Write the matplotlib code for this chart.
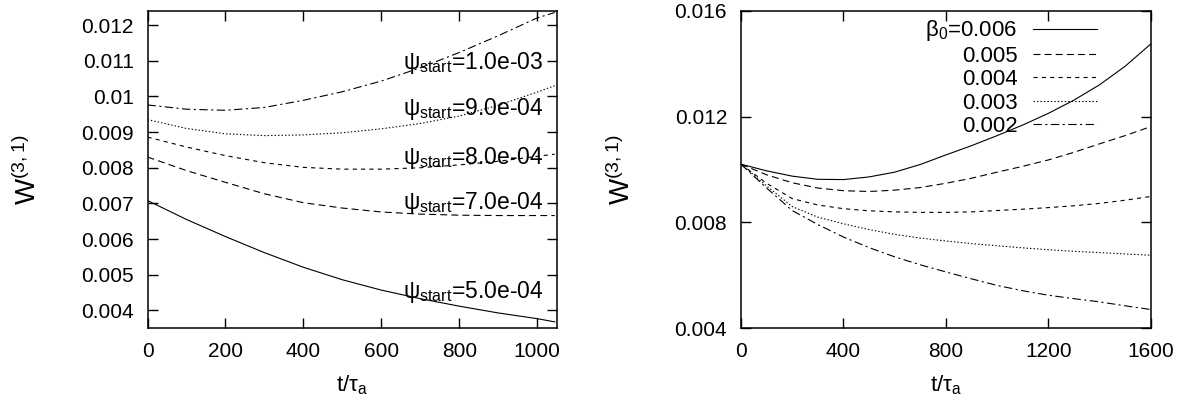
import matplotlib
matplotlib.use("Agg")
import matplotlib.pyplot as plt
import numpy as np

# left panel: W(3,1) vs t/tau_a for several psi_start
t_left = [0, 100, 200, 300, 400, 500, 600, 700, 800, 900, 1000, 1045]
w_5e4 = [0.00708, 0.00655, 0.00607, 0.00562, 0.00521, 0.00486, 0.00457, 0.00433, 0.00412, 0.00393, 0.00377, 0.00368]
w_7e4 = [0.00830, 0.00792, 0.00759, 0.00727, 0.00702, 0.00687, 0.00676, 0.00670, 0.00667, 0.00666, 0.00666, 0.00666]
w_8e4 = [0.00886, 0.00858, 0.00834, 0.00814, 0.00801, 0.00796, 0.00796, 0.00800, 0.00808, 0.00818, 0.00832, 0.00838]
w_9e4 = [0.00935, 0.00910, 0.00895, 0.00890, 0.00892, 0.00898, 0.00909, 0.00924, 0.00945, 0.00975, 0.01012, 0.01030]
w_1e3 = [0.00976, 0.00964, 0.00961, 0.00969, 0.00989, 0.01013, 0.01043, 0.01080, 0.01123, 0.01170, 0.01220, 0.01235]
left_series = [w_5e4, w_7e4, w_8e4, w_9e4, w_1e3]
left_labels = ["5.0e-04", "7.0e-04", "8.0e-04", "9.0e-04", "1.0e-03"]

# right panel: W(3,1) vs t/tau_a for several beta_0
t_right = [0, 100, 200, 300, 400, 500, 600, 700, 800, 900, 1000, 1100, 1200, 1300, 1400, 1500, 1600]
w_b006 = [0.0102, 0.00995, 0.00975, 0.00963, 0.00962, 0.00972, 0.00990, 0.01019, 0.01055, 0.01090,
          0.01128, 0.01168, 0.01212, 0.01262, 0.01320, 0.01390, 0.01474]
w_b005 = [0.0102, 0.00980, 0.00950, 0.00930, 0.00920, 0.00917, 0.00922, 0.00932, 0.00948, 0.00967,
          0.00990, 0.01012, 0.01036, 0.01065, 0.01097, 0.01128, 0.01162]
w_b004 = [0.0102, 0.00948, 0.00890, 0.00866, 0.00852, 0.00844, 0.00840, 0.00838, 0.00838, 0.00840,
          0.00845, 0.00850, 0.00856, 0.00863, 0.00872, 0.00884, 0.00898]
w_b003 = [0.0102, 0.00938, 0.00860, 0.00820, 0.00795, 0.00773, 0.00755, 0.00741, 0.00730, 0.00720,
          0.00712, 0.00704, 0.00697, 0.00691, 0.00686, 0.00681, 0.00676]
w_b002 = [0.0102, 0.00930, 0.00845, 0.00792, 0.00745, 0.00705, 0.00670, 0.00640, 0.00613, 0.00587,
          0.00562, 0.00542, 0.00525, 0.00512, 0.00500, 0.00485, 0.00471]
right_series = [w_b006, w_b005, w_b004, w_b003, w_b002]
right_labels = [r"$\mathregular{\beta_0}$=0.006", "0.005", "0.004", "0.003", "0.002"]

plt.rcParams['font.family'] = ['Liberation Sans', 'DejaVu Sans']
plt.rcParams['mathtext.fontset'] = 'custom'
plt.rcParams['mathtext.rm'] = 'Liberation Sans'
plt.rcParams['lines.scale_dashes'] = False

styles = [
    dict(linestyle='-'),
    dict(dashes=(5, 3)),
    dict(dashes=(3, 3)),
    dict(dashes=(1, 1.5)),
    dict(dashes=(6, 2.5, 1.5, 2.5)),
]

fs = 15
fig = plt.figure(figsize=(11.86, 4.04), dpi=100)
ax1 = fig.add_axes([0.1244, 0.1874, 0.345, 0.786])
ax2 = fig.add_axes([0.6248, 0.1874, 0.3454, 0.786])

for s, w in zip(styles, left_series):
    ax1.plot(t_left, w, color='black', lw=0.8, **s)
# baseline y of each psi_start label
label_y = [0.00434, 0.00685, 0.00811, 0.00948, 0.01078]
for lab, y in zip(left_labels, label_y):
    ax1.text(1015, y, r"$\mathregular{\psi_{start}}$=" + lab, ha='right', va='baseline', fontsize=16.5)
ax1.set_xlim(0, 1050)
ax1.set_ylim(0.0035, 0.0124)
ax1.set_xticks([0, 200, 400, 600, 800, 1000])
ax1.set_yticks([0.004, 0.005, 0.006, 0.007, 0.008, 0.009, 0.01, 0.011, 0.012])
ax1.set_yticklabels(["0.004", "0.005", "0.006", "0.007", "0.008", "0.009", "0.01", "0.011", "0.012"])

for s, w, lab in zip(styles, right_series, right_labels):
    ax2.plot(t_right, w, color='black', lw=0.8, label=lab, **s)
ax2.set_xlim(0, 1600)
ax2.set_ylim(0.004, 0.016)
ax2.set_xticks([0, 400, 800, 1200, 1600])
ax2.set_yticks([0.004, 0.008, 0.012, 0.016])
ax2.set_yticklabels(["0.004", "0.008", "0.012", "0.016"])
ax2.legend(loc='upper right', bbox_to_anchor=(0.87, 0.976), frameon=False, markerfirst=False,
           fontsize=16, handlelength=2.9, handletextpad=0.7, labelspacing=0.11,
           borderpad=0, borderaxespad=0)

for ax in (ax1, ax2):
    ax.tick_params(direction='in', top=True, right=True, length=7, width=1,
                   labelsize=fs, pad=10)
    for sp in ax.spines.values():
        sp.set_linewidth(1.1)
    ax.set_xlabel(r"$\mathregular{t/\tau_a}$", fontsize=16, labelpad=9)
    ax.set_ylabel(r"$\mathregular{W^{(3,1)}}$", fontsize=20, labelpad=28)

fig.savefig("out.png", dpi=100)
